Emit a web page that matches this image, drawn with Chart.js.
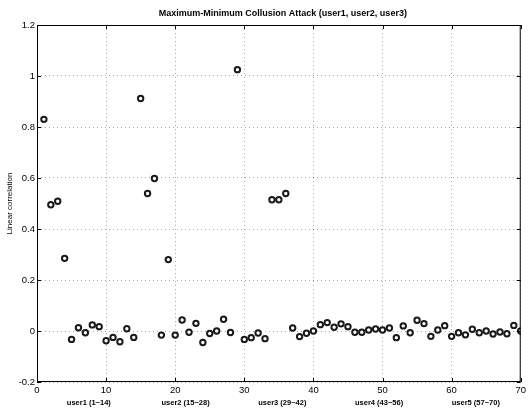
<!DOCTYPE html>
<html><head><meta charset="utf-8">
<script src="https://cdn.jsdelivr.net/npm/chart.js@4/dist/chart.umd.min.js"></script>
<style>html,body{margin:0;padding:0;background:#fff}#wrap{width:529px;height:410px}</style>
</head><body><div id="wrap"><canvas id="c" width="529" height="410"></canvas></div>
<script>
const titleText = "Maximum-Minimum Collusion Attack (user1, user2, user3)";
const yAxisTitle = "Linear correlation";
const watermarkIndex = [1,2,3,4,5,6,7,8,9,10,11,12,13,14,15,16,17,18,19,20,21,22,23,24,25,26,27,28,29,30,31,32,33,34,35,36,37,38,39,40,41,42,43,44,45,46,47,48,49,50,51,52,53,54,55,56,57,58,59,60,61,62,63,64,65,66,67,68,69,70];
const correlation = [0.83,0.495,0.509,0.285,-0.033,0.013,-0.007,0.024,0.017,-0.038,-0.025,-0.042,0.009,-0.025,
  0.912,0.539,0.598,-0.016,0.28,-0.016,0.043,-0.005,0.03,-0.045,-0.01,0.0,0.046,-0.006,
  1.025,-0.033,-0.026,-0.008,-0.03,0.515,0.515,0.539,0.012,-0.022,-0.009,0.0,0.025,0.033,
  0.015,0.028,0.017,-0.005,-0.005,0.004,0.008,0.004,0.012,-0.026,0.02,-0.007,0.042,0.029,
  -0.021,0.004,0.021,-0.021,-0.007,-0.015,0.007,-0.007,0.0,-0.012,-0.004,-0.011,0.022,0.0];
const groupLabels = ["user1 (1~14)","user2 (15~28)","user3 (29~42)","user4 (43~56)","user5 (57~70)"];
const groupRanges = [[1,14],[15,28],[29,42],[43,56],[57,70]];
const xTicks = [0,10,20,30,40,50,60,70];
const yTicks = [-0.2,0,0.2,0.4,0.6,0.8,1,1.2];

const FONT = "'Liberation Sans', Arial, sans-serif";

const boxPlugin = {
  id: 'box',
  afterDraw(chart) {
    const {ctx, chartArea: a, scales} = chart;
    ctx.save();
    ctx.strokeStyle = '#000';
    ctx.lineWidth = 1;
    ctx.strokeRect(a.left + 0.5, a.top + 0.5, a.right - a.left - 1, a.bottom - a.top - 1);
    ctx.beginPath();
    xTicks.forEach(v => {
      const x = Math.round(scales.x.getPixelForValue(v)) + 0.5;
      ctx.moveTo(x, a.bottom); ctx.lineTo(x, a.bottom - 4);
      ctx.moveTo(x, a.top); ctx.lineTo(x, a.top + 4);
    });
    yTicks.forEach(v => {
      const y = Math.round(scales.y.getPixelForValue(v)) + 0.5;
      ctx.moveTo(a.left, y); ctx.lineTo(a.left + 4, y);
      ctx.moveTo(a.right, y); ctx.lineTo(a.right - 4, y);
    });
    ctx.stroke();
    ctx.fillStyle = '#000';
    ctx.textAlign = 'center';
    ctx.textBaseline = 'middle';
    ctx.font = "bold 9px " + FONT;
    ctx.fillText(titleText, (a.left + a.right) / 2 + 4, 14);
    ctx.font = "bold 7.5px " + FONT;
    groupLabels.forEach((t, i) => {
      const mid = (groupRanges[i][0] + groupRanges[i][1]) / 2;
      ctx.fillText(t, scales.x.getPixelForValue(mid), 403);
    });
    ctx.restore();
  }
};

new Chart(document.getElementById('c'), {
  type: 'scatter',
  data: {
    datasets: [{
      data: watermarkIndex.map((x, i) => ({x: x, y: correlation[i]})),
      pointStyle: 'circle',
      pointRadius: 2.7,
      pointBorderWidth: 2,
      pointBorderColor: '#1a1a1a',
      pointBackgroundColor: '#ffffff',
      showLine: false
    }]
  },
  options: {
    responsive: false,
    animation: false,
    layout: {padding: {top: 25, right: 8, left: 0, bottom: 0}},
    plugins: {legend: {display: false}, tooltip: {enabled: false}, title: {display: false}},
    scales: {
      x: {
        type: 'linear', min: 0, max: 70,
        afterBuildTicks: s => { s.ticks = xTicks.map(v => ({value: v})); },
        afterFit: s => { s.height = 28; },
        grid: {color: 'rgba(0,0,0,0.35)', lineWidth: 1, drawTicks: false},
        border: {display: false, dash: [1,3]},
        ticks: {color: '#000', font: {family: FONT, size: 9.5}, padding: 3, maxRotation: 0, autoSkip: false}
      },
      y: {
        type: 'linear', min: -0.2, max: 1.2,
        afterBuildTicks: s => { s.ticks = yTicks.map(v => ({value: v})); },
        afterFit: s => { s.width = 37; },
        grid: {color: 'rgba(0,0,0,0.35)', lineWidth: 1, drawTicks: false},
        border: {display: false, dash: [1,3]},
        ticks: {color: '#000', font: {family: FONT, size: 9.5}, padding: 2,
          callback: v => String(Math.round(v * 10) / 10)},
        title: {display: true, text: yAxisTitle, color: '#000', font: {family: FONT, size: 8}, padding: {top: 5, bottom: 0}}
      }
    }
  },
  plugins: [boxPlugin]
});
</script></body></html>
